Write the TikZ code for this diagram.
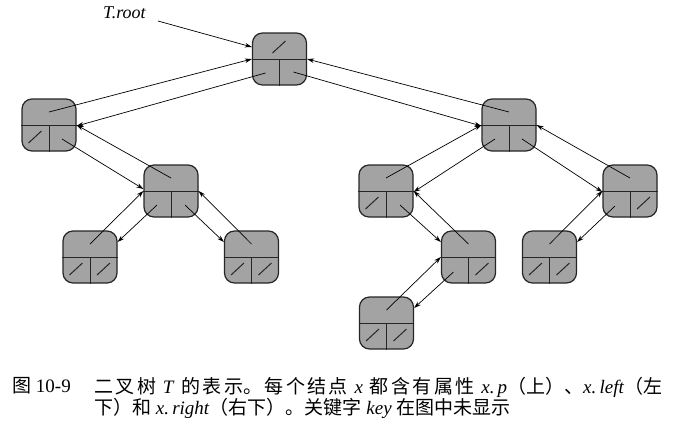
\documentclass[tikz,border=0pt]{standalone}
\usepackage{fontspec}
\setmainfont{Liberation Serif}
\newfontfamily\cjk{Noto Sans CJK SC}
\usepackage{tikz}
\usetikzlibrary{arrows.meta}

\XeTeXlinebreaklocale "zh"
\XeTeXlinebreakskip=0pt plus 3pt

\begin{document}
\begin{tikzpicture}[
    x=1pt, y=-1pt,
    >={Stealth[length=7pt, width=4.5pt]},
    %% ── node styles ──────────────────────────────────────────
    tnode/.style = {draw=black!85, line width=1.2pt, fill=black!36,
                    rounded corners=10pt, minimum width=54pt,
                    minimum height=52pt, inner sep=0pt},
    cellline/.style = {black!85, line width=1pt},
    nilline/.style  = {black!85, line width=1pt},
    arr/.style   = {->, line width=0.7pt}
]
\useasboundingbox (0,0) rectangle (691,432);

%% ── tree nodes (centre = crossing of the dividers) ───────────
\node[tnode] (nroot)  at (279.5, 59) {};
\node[tnode] (nl)     at (49, 125)   {};
\node[tnode] (nr)     at (509, 125)  {};
\node[tnode] (nlr)    at (171, 191)  {};
\node[tnode] (nrl)    at (386, 191)  {};
\node[tnode] (nrr)    at (630, 191)  {};
\node[tnode] (nlrl)   at (90, 257)   {};
\node[tnode] (nlrr)   at (251.5, 257) {};
\node[tnode] (nrlr)   at (468.5, 257) {};
\node[tnode] (nrrl)   at (549.5, 257) {};
\node[tnode] (nrlrl)  at (386.5, 323) {};

%% ── fields p | left | right ──────────────────────────────────
\foreach \n in {nroot,nl,nr,nlr,nrl,nrr,nlrl,nlrr,nrlr,nrrl,nrlrl} {
    \draw[cellline] (\n.west) -- (\n.east);
    \draw[cellline] (\n.center) -- (\n.south);
}

%% ── NIL slashes ──────────────────────────────────────────────
\draw[nilline] ([shift={(-7,-6)}]nroot.center) -- ++(13,-12);
\foreach \n in {nl,nrl,nlrl,nlrr,nrrl,nrlrl}
    \draw[nilline] ([shift={(-20.5,18)}]\n.center) -- ++(13,-12);
\foreach \n in {nrr,nrlr,nlrl,nlrr,nrrl,nrlrl}
    \draw[nilline] ([shift={(7,18)}]\n.center) -- ++(13,-12);

%% ── T.root ───────────────────────────────────────────────────
\node[font=\fontsize{18}{20}\selectfont\itshape, anchor=west, inner sep=0pt]
    (troot) at (103, 13) {T.root};
\draw[arr] (158, 21) -- ([yshift=12pt]nroot.west);

%% ── parent pointers ──────────────────────────────────────────
\draw[arr] ([yshift=13pt]nl.center)    -- (nroot.west);
\draw[arr] ([yshift=13pt]nr.center)    -- (nroot.east);
\draw[arr] ([yshift=13pt]nlr.center)   -- (nl.east);
\draw[arr] ([yshift=13pt]nrl.center)   -- (nr.west);
\draw[arr] ([yshift=13pt]nrr.center)   -- (nr.east);
\draw[arr] ([yshift=13pt]nlrl.center)  -- (nlr.west);
\draw[arr] ([yshift=13pt]nlrr.center)  -- (nlr.east);
\draw[arr] ([yshift=13pt]nrlr.center)  -- (nrl.east);
\draw[arr] ([yshift=13pt]nrrl.center)  -- (nrr.west);
\draw[arr] ([yshift=13pt]nrlrl.center) -- (nrlr.west);

%% ── child pointers ───────────────────────────────────────────
\draw[arr] ([shift={(-14,14)}]nroot.center) -- ([yshift=-1pt]nl.east);
\draw[arr] ([shift={(14,13)}]nroot.center)  -- ([yshift=-1pt]nr.west);
\draw[arr] ([shift={(13,14)}]nl.center)     -- ([yshift=2pt]nlr.west);
\draw[arr] ([shift={(-14,14)}]nr.center)    -- ([yshift=-1pt]nrl.east);
\draw[arr] ([shift={(13,14)}]nr.center)     -- ([yshift=-1pt]nrr.west);
\draw[arr] ([shift={(-14,14)}]nlr.center)   -- ([yshift=15pt]nlrl.east);
\draw[arr] ([shift={(14,14)}]nlr.center)    -- ([yshift=15pt]nlrr.west);
\draw[arr] ([shift={(14,14)}]nrl.center)    -- ([yshift=15pt]nrlr.west);
\draw[arr] ([shift={(-15,15)}]nrr.center)   -- ([yshift=15pt]nrrl.east);
\draw[arr] ([shift={(-15,15)}]nrlr.center)  -- ([yshift=15pt]nrlrl.east);

%% ── caption ──────────────────────────────────────────────────
\node[anchor=north west, inner sep=0pt,
      font=\fontsize{19}{21}\selectfont] (fignum) at (12, 377)
    {{\cjk 图} 10-9};
\node[anchor=north west, inner sep=0pt, text width=568pt, align=justify,
      font=\fontsize{19}{21}\selectfont] (caption) at (94, 377)
    {{\cjk 二叉树} \textit{T} {\cjk 的表示。每个结点} \textit{x}
     {\cjk 都含有属性} \textit{x.\,p}{\cjk （上）、}\textit{x.\,left}{\cjk （左}\linebreak
     {\cjk 下）和} \textit{x.\,right}{\cjk （右下）。关键字}
     \textit{key} {\cjk 在图中未显示}};
\end{tikzpicture}
\end{document}
